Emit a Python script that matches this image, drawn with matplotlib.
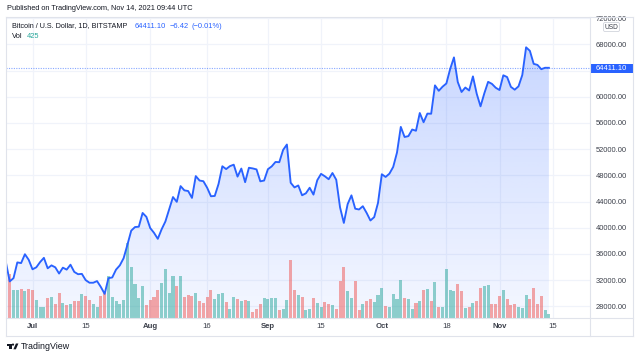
import numpy as np
import pandas as pd
import matplotlib
matplotlib.use("Agg")
import matplotlib.pyplot as plt
import matplotlib.dates as mdates
from matplotlib.patches import Rectangle, FancyBboxPatch, Circle, Polygon

# ---------------- data ----------------
dates = pd.date_range("2021-06-24", "2021-11-14", freq="D")

close = [
    # Jun 24-30
    34700, 31800, 32300, 34700, 34600, 35950, 35100,
    # Jul
    33650, 33950, 34750, 35400, 33800, 34250, 33950, 33000, 33900, 33600,
    34350, 33250, 32900, 32950, 32000, 31600, 31600, 31850, 30950, 29900,
    32300, 32400, 33600, 34250, 35350, 37400, 39550, 40100, 40150, 42250, 41650,
    # Aug
    39950, 39220, 38300, 39750, 40950, 42830, 44680, 43950, 46350, 45700,
    45600, 44550, 47880, 47200, 47100, 46100, 44800, 44850, 46680, 49380,
    48950, 49400, 49620, 47800, 49030, 46950, 49150, 49050, 48900, 47080, 47200,
    # Sep
    48930, 49360, 50040, 50000, 51870, 52700, 46860, 46150, 46450, 44950,
    45250, 46100, 45050, 47250, 48220, 47850, 47400, 48350, 47320, 43100,
    40730, 43600, 44940, 42900, 42780, 43280, 42260, 41100, 41620, 43800,
    # Oct
    48160, 47750, 48250, 49280, 51480, 55390, 53850, 53980, 54990, 54800,
    57510, 56100, 57420, 57400, 61730, 60900, 61530, 62020, 64230, 66000,
    62250, 60720, 61400, 60950, 63100, 60440, 58530, 60520, 62270, 61960, 61370,
    # Nov 1-14
    61020, 63270, 63000, 61500, 61070, 61580, 63310, 67540, 67000, 65020,
    64850, 64200, 64417.52, 64411.10,
]

volume = [
    # Jun 24-30
    4070, 4430, 2830, 2830, 2900, 2730, 2900,
    # Jul
    2770, 1830, 1130, 1070, 1970, 2130, 1400, 2500, 1500, 1270,
    1430, 1670, 1670, 2400, 2170, 1800, 1430, 1130, 2170, 2570,
    4170, 2100, 1730, 1370, 1830, 7530, 5070, 3430, 2000, 3170, 1330,
    # Aug
    1800, 2100, 2830, 3500, 4930, 2500, 4170, 3170, 4230, 2100,
    2270, 2170, 2500, 1670, 1500, 2100, 2830, 1930, 2400, 2500,
    1600, 900, 2100, 1930, 1670, 1830, 1730, 630, 930, 1430, 1970,
    # Sep
    1900, 1970, 1970, 830, 900, 1770, 5830, 2830, 2270, 2070,
    830, 930, 2000, 1470, 1100, 1630, 1400, 1270, 900, 3670,
    5100, 2670, 2000, 3730, 830, 1430, 1730, 1930, 1600, 2270,
    # Oct
    3000, 1200, 1070, 2400, 1900, 3800, 2000, 1930, 930, 1500,
    1730, 2800, 2900, 1670, 3630, 1100, 1100, 4930, 2800, 2670,
    3370, 2730, 970, 1100, 1500, 1730, 2970, 3200, 3330, 1400, 1400,
    # Nov 1-14
    2170, 2830, 1900, 1300, 1400, 1100, 1000, 2330, 1900, 3000,
    1400, 2200, 770, 425,
]

# U = close above open (teal volume bar), D = close below open (red bar)
direction = (
    "UDUUDUD"
    + "DUUUDUDDUDUDDUDDUUDDUUUUUUUUUUD"
    + "DDDUUUUDUDDDUDDDDUUUDUUDUDUDDDU"
    + "UUUDUUDDUDUUDUUDDUDDDUUDDUDDUU"
    + "UDUUUUDUUDUDUDUDUUUUDDUDUDDUUDD"
    + "DUDDDUUUDDDDUU"
)

price_ticks = [28000, 32000, 36000, 40000, 44000, 48000, 52000, 56000,
               60000, 64000, 68000, 72000]
# the 64000 label sits under the last-price marker, so it is left blank
price_tick_labels = ["" if p == 64000 else f"{p:.2f}" for p in price_ticks]
date_ticks = ["2021-07-01", "2021-07-15", "2021-08-01", "2021-08-16",
              "2021-09-01", "2021-09-15", "2021-10-01", "2021-10-18",
              "2021-11-01", "2021-11-15"]
date_labels = ["Jul", "15", "Aug", "16", "Sep", "15", "Oct", "18", "Nov", "15"]
last_price = 64411.10

# ---------------- style ----------------
FONT = ["Liberation Sans", "DejaVu Sans"]
plt.rcParams["font.family"] = FONT
TEXT = "#131722"
GRID = "#f0f3fa"
BORDER = "#e0e3eb"
BLUE = "#2962ff"
UP = "#26a69a"
DOWN = "#ef5350"

W, H = 640, 358
fig = plt.figure(figsize=(W / 100, H / 100), dpi=100, facecolor="white")


def fx(x):
    return x / W


def fy(y):
    return 1 - y / H


left, right, top, bottom = 6.0, 589.5, 16.7, 318.0
ax = fig.add_axes([fx(left), fy(bottom), (right - left) / W, (bottom - top) / H])
ax_vol = ax.twinx()   # drawn on top of the price area fill

xnum = mdates.date2num(dates)
jul1 = mdates.date2num(pd.Timestamp("2021-07-01"))
xlim = (jul1 - 6.98, jul1 + 146.7)
ylim = (26214, 72214)

# ---- bottom layer: grid + gradient area (price scale) ----
ax.set_facecolor("white")
ax.set_xlim(*xlim)
ax.set_ylim(*ylim)
tick_nums = mdates.date2num(pd.to_datetime(date_ticks))
ax.set_xticks(tick_nums, labels=date_labels)
ax.set_yticks(price_ticks, labels=price_tick_labels)
ax.grid(True, color=GRID, lw=0.9, zorder=0)
ax.set_axisbelow(True)
ax.yaxis.tick_right()
ax.tick_params(axis="x", length=0, pad=3.6, labelsize=5.6, labelcolor="#3b3f4a")
ax.tick_params(axis="y", length=0, pad=4.5, labelsize=5.4, labelcolor="#3b3f4a")
for lbl, txt in zip(ax.get_xticklabels(), date_labels):
    if txt.isalpha():
        lbl.set_fontweight("bold")

grad = np.zeros((256, 1, 4))
grad[..., 0] = 41 / 255
grad[..., 1] = 98 / 255
grad[..., 2] = 1.0
grad[..., 3] = np.linspace(0.28, 0.05, 256)[:, None]
img = ax.imshow(grad, extent=(xlim[0], xlim[1], ylim[0], ylim[1]),
                aspect="auto", origin="upper", zorder=1, interpolation="bilinear")
poly = ax.fill_between(xnum, close, ylim[0], facecolor="none", edgecolor="none")
img.set_clip_path(poly.get_paths()[0], transform=ax.transData)
ax.set_xlim(*xlim)
ax.set_ylim(*ylim)
ax.axhline(last_price, color=BLUE, alpha=0.55, lw=0.8, ls=(0, (1, 1.2)), zorder=2)

# ---- top layer: volume bars, then the price line (price scale) ----
colors = [UP if d == "U" else DOWN for d in direction]
ax_vol.bar(xnum, volume, width=0.8, color=colors, alpha=0.5, linewidth=0, zorder=2)
ax_vol.set_ylim(0, 30130)
ax_vol.set_xlim(*xlim)
ax_vol.set_yticks([])
ax_vol.plot(xnum, close, transform=ax.transData, color=BLUE, lw=1.35,
            solid_joinstyle="round", zorder=3)
ax_vol.set_ylim(0, 30130)

for a in (ax, ax_vol):
    for s in a.spines.values():
        s.set_visible(False)

# ---------------- overlay (pixel coords) ----------------
ov = fig.add_axes([0, 0, 1, 1], zorder=10)
ov.set_xlim(0, W)
ov.set_ylim(H, 0)
ov.axis("off")
ov.patch.set_visible(False)

ov.add_patch(Rectangle((589, 0), 51, 16.4, facecolor="white", edgecolor="none"))

for (x0, y0, x1, y1) in [(left, top, 633, top), (left, 336, 633, 336),
                         (left, top, left, 336), (633, top, 633, 336),
                         (left, bottom, 633, bottom), (right, top, right, 336)]:
    ov.plot([x0, x1], [y0, y1], color=BORDER, lw=0.8)

ov.text(7, 8.5, "Published on TradingView.com, Nov 14, 2021 09:44 UTC",
        fontsize=5.35, color=TEXT, va="center", ha="left")
ov.text(11.5, 26, "Bitcoin / U.S. Dollar, 1D, BITSTAMP",
        fontsize=5.25, color=TEXT, va="center", ha="left")
ov.text(134.7, 26, "64411.10", fontsize=5.4, color=BLUE, va="center", ha="left")
ov.text(170, 26, "\u22126.42", fontsize=5.4, color=BLUE, va="center", ha="left")
ov.text(191.7, 26, "(\u22120.01%)", fontsize=5.4, color=BLUE, va="center", ha="left")
ov.text(11.5, 37, "Vol", fontsize=5.4, color=TEXT, va="center", ha="left")
ov.text(27.3, 37, "425", fontsize=5.4, color=UP, va="center", ha="left")

# last price label
ov.add_patch(Rectangle((590, 63.6), 43, 9.4, facecolor=BLUE, edgecolor="none"))
ov.text(611.5, 68.4, "64411.10", fontsize=5.4, color="white", va="center", ha="center")

# USD box
ov.add_patch(FancyBboxPatch((603.5, 22.5), 16, 9, boxstyle="round,pad=0,rounding_size=1.5",
                            facecolor="white", edgecolor="#d1d4dc", lw=0.6))
ov.text(611.5, 27.2, "USD", fontsize=4.8, color="#3b3f4a", va="center", ha="center")

# TradingView logo + name
ov.add_patch(Rectangle((6.5, 343.5), 5.0, 2.0, facecolor=TEXT, edgecolor="none"))
ov.add_patch(Rectangle((9.3, 343.5), 2.2, 5.8, facecolor=TEXT, edgecolor="none"))
ov.add_patch(Circle((13.0, 344.6), 1.1, facecolor=TEXT, edgecolor="none"))
ov.add_patch(Polygon([(15.9, 343.5), (18.4, 343.5), (15.9, 349.3), (13.4, 349.3)],
                     closed=True, facecolor=TEXT, edgecolor="none"))
ov.text(20.7, 346.6, "TradingView", fontsize=6.4, color=TEXT, va="center", ha="left")

fig.savefig("out.png", dpi=100, facecolor="white")
